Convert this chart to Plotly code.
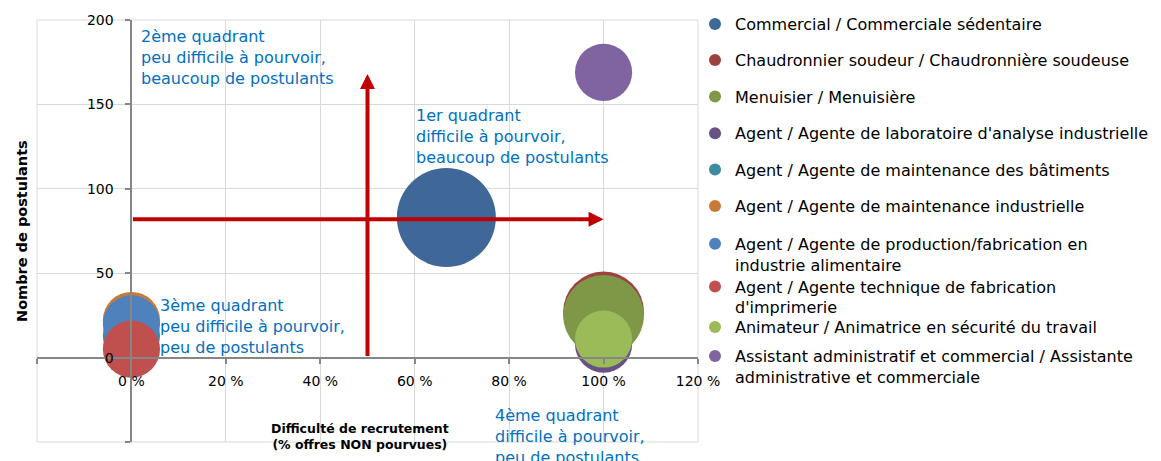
import plotly.graph_objects as go

# ---- data ----
metiers = [
    "Commercial / Commerciale sédentaire",
    "Chaudronnier soudeur / Chaudronnière soudeuse",
    "Menuisier / Menuisière",
    "Agent / Agente de laboratoire d'analyse industrielle",
    "Agent / Agente de maintenance des bâtiments",
    "Agent / Agente de maintenance industrielle",
    "Agent / Agente de production/fabrication en<br>industrie alimentaire",
    "Agent / Agente technique de fabrication<br>d'imprimerie",
    "Animateur / Animatrice en sécurité du travail",
    "Assistant administratif et commercial / Assistante<br>administrative et commerciale",
]
difficulte = [66.7, 100, 100, 100, 0, 0, 0, 0, 100, 100]   # % offres non pourvues
postulants = [83, 27, 25, 8, 13, 22, 20, 5, 11, 169]
offres = [3, 2, 2, 1, 1, 1, 1, 1, 1, 1]                      # bubble size
couleurs = ["#3F6797", "#9C413F", "#7E9848", "#685183", "#3D8BA1",
            "#C87A39", "#4F81BD", "#C0504D", "#9BBB59", "#8064A2"]

x_ticks = [-20, 0, 20, 40, 60, 80, 100, 120]
x_ticktext = ["", "0 %", "20 %", "40 %", "60 %", "80 %", "100 %", "120 %"]
y_ticks = [-50, 0, 50, 100, 150, 200]
y_ticktext = ["", "0", "50", "100", "150", "200"]
x_range = [-20, 120]
y_range = [-50, 200]

seuil_x = 50        # vertical arrow
seuil_x_top = 168
seuil_y = 82        # horizontal arrow
seuil_y_end = 100

quadrants = [
    ("2ème quadrant<br>peu difficile à pourvoir,<br>beaucoup de postulants", 1.7, 197),
    ("1er quadrant<br>difficile à pourvoir,<br>beaucoup de postulants", 59.9, 150),
    ("3ème quadrant<br>peu difficile à pourvoir,<br>peu de postulants", 5.6, 37.4),
    ("4ème quadrant<br>difficile à pourvoir,<br>peu de postulants", 76.6, -27.4),
]

# layout: vertical pixel position (text middle) of each legend entry
legend_px = [23, 59, 95.5, 132.3, 168.5, 205.2, 242.8, 285.5, 326, 355]

FONT = "DejaVu Sans"
GRID = "#D9D9D9"
max_diam = 99
sizeref = 2.0 * max(offres) / (max_diam ** 2)
PLOT_H = 422

fig = go.Figure()
legend_layouts = {}
for i, nom in enumerate(metiers):
    lid = "legend" if i == 0 else f"legend{i + 1}"
    fig.add_trace(go.Scatter(
        x=[difficulte[i]], y=[postulants[i]], mode="markers", name=nom,
        legend=lid,
        marker=dict(size=[offres[i]], sizemode="area", sizeref=sizeref,
                    color=couleurs[i], line=dict(width=0), opacity=1),
    ))
    legend_layouts[lid] = dict(
        x=0.9955, y=1 - (legend_px[i] - 36) / PLOT_H, xanchor="left", yanchor="top",
        valign="top", font=dict(family=FONT, size=16, color="#000000"),
        itemsizing="constant", bgcolor="rgba(0,0,0,0)", maxheight=1000)

annotations = []
# arrows
annotations.append(dict(x=seuil_y_end, y=seuil_y, ax=0, ay=seuil_y, xref="x", yref="y",
                        axref="x", ayref="y", text="", showarrow=True, arrowhead=2,
                        arrowsize=0.75, arrowwidth=4, arrowcolor="#C00000", standoff=0))
annotations.append(dict(x=seuil_x, y=seuil_x_top, ax=seuil_x, ay=0, xref="x", yref="y",
                        axref="x", ayref="y", text="", showarrow=True, arrowhead=2,
                        arrowsize=0.75, arrowwidth=4, arrowcolor="#C00000", standoff=0))
for txt, qx, qy in quadrants:
    annotations.append(dict(x=qx, y=qy, xref="x", yref="y", text=txt, showarrow=False,
                            xanchor="left", yanchor="top", align="left",
                            font=dict(family=FONT, size=16, color="#0070C0")))
# axis titles
annotations.append(dict(x=-0.0227, y=0.5, xref="paper", yref="paper",
                        xanchor="center", yanchor="middle",
                        text="<b>Nombre de postulants</b>", textangle=-90, showarrow=False,
                        font=dict(family=FONT, size=14.5, color="#000000")))
annotations.append(dict(x=48.5, y=-46.8, xref="x", yref="y",
                        xanchor="center", yanchor="middle",
                        text="<b>Difficulté de recrutement<br>(% offres NON pourvues)</b>",
                        showarrow=False, align="center",
                        font=dict(family=FONT, size=12.5, color="#000000")))

axis_common = dict(showgrid=True, gridcolor=GRID, gridwidth=1, zeroline=False,
                   showline=True, linecolor="#868686", linewidth=2,
                   ticks="outside", ticklen=5, tickcolor="#868686", tickwidth=1.5,
                   tickfont=dict(family=FONT, size=14, color="#000000"),
                   anchor="free", automargin=False)

fig.update_layout(
    width=1161, height=461,
    margin=dict(l=29, r=471, t=12, b=27, autoexpand=False),
    paper_bgcolor="white", plot_bgcolor="white",
    font=dict(family=FONT, color="#000000"),
    showlegend=True,
    xaxis=dict(range=x_range, tickvals=x_ticks, ticktext=x_ticktext,
               position=(0 - y_range[0]) / (y_range[1] - y_range[0]),
               ticklabelstandoff=6, **axis_common),
    yaxis=dict(range=y_range, tickvals=y_ticks, ticktext=y_ticktext,
               position=(0 - x_range[0]) / (x_range[1] - x_range[0]),
               ticklabelstandoff=9, **axis_common),
    shapes=[dict(type="rect", xref="paper", yref="paper", x0=0, y0=0, x1=1, y1=1,
                 line=dict(color=GRID, width=1), layer="below")],
    annotations=annotations,
    **legend_layouts,
)

fig.write_html("out.html")
